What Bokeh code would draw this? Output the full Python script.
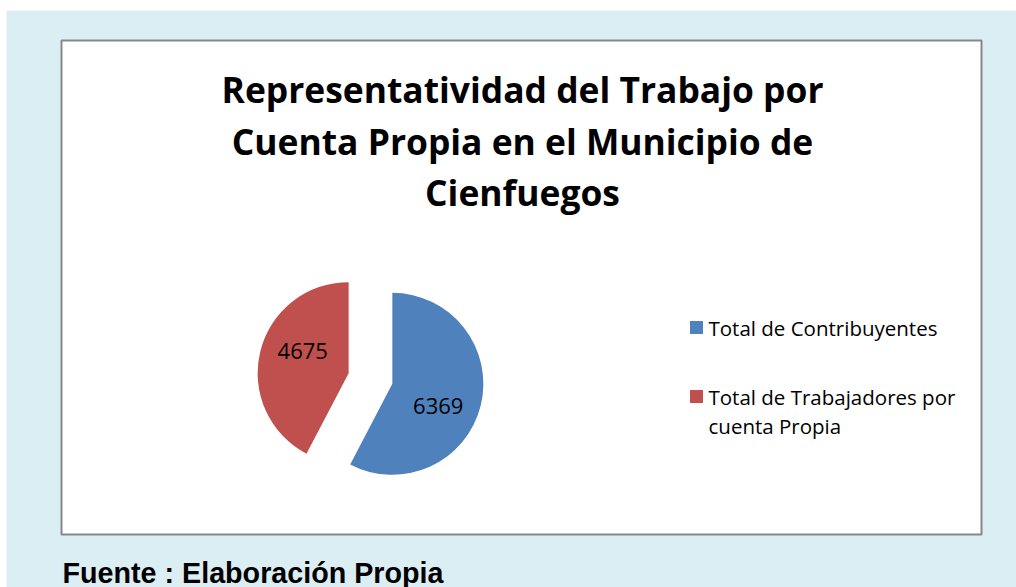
import numpy as np
from bokeh.plotting import figure
from bokeh.models import Range1d
from bokeh.core.properties import value
from bokeh.embed import file_html
from bokeh.resources import INLINE

# ---- data ----
categories = ["Total de Contribuyentes", "Total de Trabajadores por cuenta Propia"]
legend_lines = [["Total de Contribuyentes"], ["Total de Trabajadores por", "cuenta Propia"]]
values = [6369, 4675]
colors = ["#4F81BD", "#C0504D"]
title_lines = ["Representatividad del Trabajo por",
               "Cuenta Propia en el Municipio de",
               "Cienfuegos"]
source_note = "Fuente : Elaboración Propia"

# ---- layout ----
W, H = 1016, 587
BG = "#DBEEF3"
p = figure(width=W, height=H, x_range=Range1d(0, W), y_range=Range1d(H, 0),
           output_backend="svg", toolbar_location=None, min_border=0,
           x_axis_location=None, y_axis_location=None,
           background_fill_color="white", border_fill_color="white",
           outline_line_color=None)
p.grid.visible = False

# outer light-blue panel
p.quad(left=[6], right=[W + 5], top=[10], bottom=[H + 5], fill_color=BG, line_color=None)

# chart area box
p.quad(left=[61], right=[981], top=[40], bottom=[534], fill_color="white",
       line_color="#878787", line_width=2)

# title
p.text(x=[522] * 3, y=[88, 140, 191], text=title_lines, text_font=value("Open Sans"),
       text_font_style="bold", text_font_size="35.4px", text_align="center",
       text_baseline="alphabetic", text_color="black")

# pie
pie_x, pie_y, R, explode = 370, 378, 91, 22.5
vals = np.array(values, dtype=float)
frac = vals / vals.sum()
cum = np.concatenate([[0.0], np.cumsum(frac)]) * 2 * np.pi
start = np.pi / 2 - cum[:-1]
end = np.pi / 2 - cum[1:]
mid = (start + end) / 2
cx = pie_x + explode * np.cos(mid)
cy = pie_y - explode * np.sin(mid)
p.wedge(x=cx, y=cy, radius=R, radius_units="screen", start_angle=start, end_angle=end,
        direction="clock", fill_color=colors, line_color=None)

rot = np.deg2rad(-12)
lx = cx + 0.56 * R * np.cos(mid + rot)
ly = cy - 0.56 * R * np.sin(mid + rot)
p.text(x=lx, y=ly, text=[str(v) for v in values], text_font=value("Open Sans"),
       text_font_size="22px", text_align="center", text_baseline="middle",
       text_color="black")

# legend
leg_x, leg_y0, leg_gap, line_h = 696, 327, 69, 29
for i, lines in enumerate(legend_lines):
    base = leg_y0 + i * leg_gap
    p.scatter(x=[leg_x], y=[base], marker="square", size=13,
              fill_color=colors[i], line_color=None)
    p.text(x=[leg_x + 12] * len(lines), y=[base + k * line_h for k in range(len(lines))],
           text=lines, text_font=value("Open Sans"), text_font_size="20.5px",
           text_align="left", text_baseline="alphabetic", text_color="black")

# source note
p.text(x=[62], y=[572], text=[source_note], text_font=value("Liberation Sans"),
       text_font_style="bold", text_font_size="28.7px", text_align="left",
       text_baseline="alphabetic", text_color="black")

open("out.html", "w").write(file_html(p, INLINE))
